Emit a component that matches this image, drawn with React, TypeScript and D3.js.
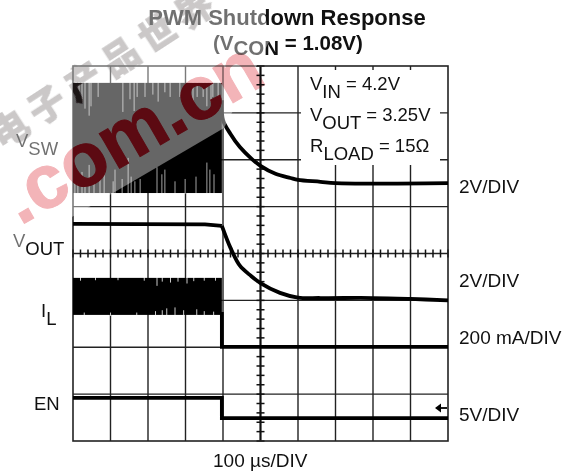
import React from 'react'
import * as d3 from 'd3'

// time in us (10 divisions), level in scope divisions from the top (8 divisions)
const gridTimes = [-400, -300, -200, -100, 0, 100, 200, 300, 400]
const gridLevels = [1, 2, 3, 4, 5, 6, 7]
const cutoff = -103

const vswDecay: [number, number][] = [
  [-103, 0.73], [-100, 1.15], [-80, 1.45], [-55, 1.73], [-25, 1.97], [0, 2.13], [40, 2.3], [80, 2.39],
  [100, 2.43], [160, 2.47], [200, 2.5], [500, 2.5],
]
const voutFlat: [number, number][] = [[-500, 3.37], [-148, 3.38], [-103, 3.41]]
const voutDecay: [number, number][] = [
  [-103, 3.41], [-80, 3.88], [-55, 4.26], [-25, 4.48], [0, 4.63],
  [52, 4.84], [100, 4.94], [160, 4.95], [300, 4.95], [400, 4.97], [500, 5.0],
]
const ilOff: [number, number][] = [[-103, 5.25], [-103, 5.99], [500, 5.99]]
const en: [number, number][] = [[-500, 7.08], [-103, 7.08], [-103, 7.51], [500, 7.51]]

const vswBand = [0.36, 2.71]
const ilBand = [4.52, 5.31]

// switching glitches: [time, depth in divisions]
const vswTopSpikes = [
  [-492, 0.3], [-484, 0.3], [-476, 0.35], [-468, 0.55], [-457, 0.7], [-452, 0.5], [-433, 0.3],
  [-367, 0.62], [-348, 0.35], [-337, 0.6], [-329, 0.3], [-308, 0.3], [-287, 0.25], [-273, 0.4],
  [-255, 0.2], [-241, 0.3], [-215, 0.3], [-180, 0.55], [-169, 0.3], [-153, 0.3], [-143, 0.5],
  [-132, 0.4], [-127, 0.3], [-113, 0.35],
]
const vswBottomSpikes = [
  [-495, 0.3], [-487, 0.3], [-476, 0.45], [-468, 0.3], [-457, 0.6], [-444, 0.35], [-428, 0.3],
  [-417, 0.5], [-393, 0.25], [-388, 0.5], [-369, 0.3], [-353, 0.75], [-345, 0.35], [-335, 0.25],
  [-321, 0.3], [-276, 0.55], [-263, 0.4], [-255, 0.5], [-228, 0.25], [-201, 0.3], [-172, 0.35],
  [-143, 0.65], [-135, 0.5], [-124, 0.4],
]
const ilTopSpikes = [
  [-480, 0.06], [-440, 0.05], [-380, 0.05], [-310, 0.06], [-276, 0.17], [-262, 0.08], [-240, 0.1],
  [-220, 0.08], [-196, 0.12], [-178, 0.07], [-150, 0.06], [-120, 0.06],
]
const ilBottomSpikes = [
  [-470, 0.05], [-400, 0.05], [-330, 0.05], [-280, 0.08], [-262, 0.1], [-250, 0.14], [-228, 0.16],
  [-205, 0.1], [-170, 0.12], [-150, 0.08], [-125, 0.07],
]

const rightLabels = ['2V/DIV', '2V/DIV', '200 mA/DIV', '5V/DIV']
const watermarkCn = '电子产品世界'
const watermarkEn = '.com.cn'

const x = d3.scaleLinear().domain([-500, 500]).range([73, 448])
const y = d3.scaleLinear().domain([0, 8]).range([66, 441])
const trace = d3.line<[number, number]>().x((d) => x(d[0])).y((d) => y(d[1]))
const decay = d3.line<[number, number]>().x((d) => x(d[0])).y((d) => y(d[1])).curve(d3.curveCatmullRom)

const bandEdge = 'M0,0 L262,0 L270,40 L224,128 L113,193 L0,259 Z'
const font = '"Liberation Sans", Arial, sans-serif'

const Sub = ({ x: px, y: py, main, sub, rest, size = 18.5, fill = '#111' }: any) => (
  <text x={px} y={py} fontSize={size} fill={fill} fontFamily={font}>
    {main}
    <tspan dy={8} fontSize={size}>{sub}</tspan>
    {rest ? <tspan dy={-8}>{rest}</tspan> : null}
  </text>
)

const CnMark = ({ fill }: { fill: string }) => (
  <text
    transform="translate(2,150) rotate(-33)"
    fontFamily='"Noto Sans CJK SC", sans-serif'
    fontWeight={700}
    fontSize={36}
    letterSpacing={8}
    fill={fill}
    stroke={fill}
    strokeWidth={1.6}
    filter="url(#soft)"
  >
    {watermarkCn}
  </text>
)

const EnMark = ({ fill }: { fill: string }) => (
  <text
    transform="translate(20,226) rotate(-30)"
    fontFamily={font}
    fontWeight={700}
    fontSize={76}
    fill={fill}
    stroke={fill}
    strokeWidth={1}
  >
    {watermarkEn}
  </text>
)

const App = () => {
  const spikes = (list: number[][], edge: number, dir: number, opacity = 1) =>
    list.map((d, i) => (
      <line key={i} x1={x(d[0])} x2={x(d[0])} y1={y(edge) - dir} y2={y(edge + dir * d[1])} stroke="#fff" strokeWidth={0.8} strokeOpacity={opacity} />
    ))

  return (
    <svg width={573} height={475} style={{ position: 'absolute', left: 0, top: 0, background: '#fff' }}>
      <defs>
        <filter id="soft"><feGaussianBlur stdDeviation={0.7} /></filter>
        <clipPath id="burst">
          <rect x={x(-500)} y={y(vswBand[0])} width={x(cutoff) - x(-500)} height={y(vswBand[1]) - y(vswBand[0])} />
        </clipPath>
        <clipPath id="burstBand">
          <path d={bandEdge} />
        </clipPath>
      </defs>

      {/* chinese watermark sits under everything, the band fades it later */}
      <CnMark fill="#a8a4a4" />

      {/* grid */}
      <g stroke="#222" strokeWidth={1.4}>
        {gridTimes.map((t) => (
          <line key={t} x1={x(t)} x2={x(t)} y1={y(0)} y2={y(8)} />
        ))}
        {gridLevels.map((l) => (
          <line key={l} x1={x(-500)} x2={x(500)} y1={y(l)} y2={y(l)} />
        ))}
      </g>
      {/* centre graticule ticks */}
      <g stroke="#111" strokeWidth={1.5}>
        <line x1={x(0)} x2={x(0)} y1={y(0)} y2={y(8)} strokeWidth={2} />
        {d3.range(0, 8.01, 0.2).map((l) => (
          <line key={l} x1={x(0) - 4} x2={x(0) + 4} y1={y(l)} y2={y(l)} />
        ))}
        {d3.range(-500, 501, 20).map((t) => (
          <line key={t} x1={x(t)} x2={x(t)} y1={y(4) - 4} y2={y(4) + 4} />
        ))}
      </g>

      {/* cleared area behind the conditions text */}
      <rect x={301} y={70} width={139} height={95} fill="#fff" />
      <rect x={x(-500)} y={y(0)} width={x(500) - x(-500)} height={y(8) - y(0)} fill="none" stroke="#222" strokeWidth={1.6} />

      {/* traces */}
      <rect x={x(-500)} y={y(vswBand[0])} width={x(cutoff) - x(-500)} height={y(vswBand[1]) - y(vswBand[0])} fill="#000" />
      <rect x={x(-500)} y={y(ilBand[0])} width={x(cutoff) - x(-500)} height={y(ilBand[1]) - y(ilBand[0])} fill="#000" />
      {spikes(ilTopSpikes, ilBand[0], 1)}
      {spikes(ilBottomSpikes, ilBand[1], -1)}
      <g fill="none" stroke="#000" strokeWidth={3.8}>
        <path d={decay(vswDecay) ?? ''} />
        <path d={trace(voutFlat) ?? ''} />
        <path d={decay(voutDecay) ?? ''} />
        <path d={trace(ilOff) ?? ''} />
        <path d={trace(en) ?? ''} />
      </g>
      <path d="M447,408 H440" fill="none" stroke="#000" strokeWidth={1.8} />
      <path d="M435,408 L441,403.5 V412.5 Z" fill="#000" />

      {/* labels */}
      <g fontFamily={font} fill="#111">
        <text x={287} y={25} textAnchor="middle" fontSize={22} fontWeight={700}>PWM Shutdown Response</text>
        <text x={213} y={50} fontSize={20.5} fontWeight={700}>
          (V<tspan dy={5}>CON</tspan><tspan dy={-5}> = 1.08V)</tspan>
        </text>
        {rightLabels.map((label, i) => (
          <text key={i} x={459} y={[193, 287, 344, 421][i]} fontSize={19}>{label}</text>
        ))}
        <text x={34} y={410} fontSize={18.5}>EN</text>
        <text x={213} y={467} fontSize={19}>100 µs/DIV</text>
      </g>
      <Sub x={310} y={90} main="V" sub="IN" rest=" = 4.2V" />
      <Sub x={310} y={121} main="V" sub="OUT" rest=" = 3.25V" />
      <Sub x={310} y={152} main="R" sub="LOAD" rest=" = 15Ω" />
      <Sub x={16} y={147} main="V" sub="SW" />
      <Sub x={13} y={247} main="V" sub="OUT" />
      <Sub x={41} y={317} main="I" sub="L" />

      {/* translucent watermark band washes out what is under it */}
      <path d={bandEdge} fill="#fff" fillOpacity={0.4} />
      {spikes(vswTopSpikes, vswBand[0], 1, 0.8)}
      {spikes(vswBottomSpikes, vswBand[1], -1, 0.8)}
      <g style={{ mixBlendMode: 'multiply' }}>
        <EnMark fill="#f3b4b8" />
      </g>
      <g clipPath="url(#burst)">
        <g clipPath="url(#burstBand)">
          <CnMark fill="#1c1416" />
          <EnMark fill="#5c0a12" />
        </g>
      </g>
    </svg>
  )
}

export default App
